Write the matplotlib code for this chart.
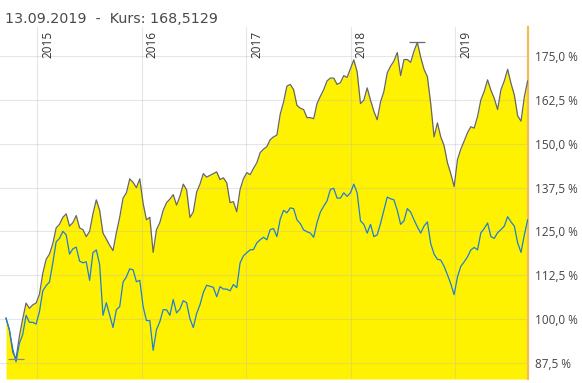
import matplotlib
matplotlib.use("Agg")
import matplotlib.pyplot as plt
import matplotlib.dates as mdates
import matplotlib.transforms as mtransforms
import numpy as np
import pandas as pd

plt.rcParams['font.family'] = ['Open Sans', 'DejaVu Sans']

# Daten (Wertentwicklung in %, Start = 100 %)
start_date = '2014-09-13'
end_date = '2019-09-13'
title_text = '13.09.2019  -  Kurs: 168,5129'
year_labels = ['2015', '2016', '2017', '2018', '2019']
y_ticks = [87.5, 100.0, 112.5, 125.0, 137.5, 150.0, 162.5, 175.0]
y_ticklabels = ['87,5 %', '100,0 %', '112,5 %', '125,0 %', '137,5 %',
                '150,0 %', '162,5 %', '175,0 %']

fonds = [
    100.0, 96.9, 90.5, 88.6, 95.0, 100.0, 104.5, 103.0, 104.0, 104.5,
    107.0, 113.0, 117.0, 118.5, 121.5, 126.0, 127.0, 129.0, 130.0, 126.5,
    127.5, 129.5, 126.0, 125.5, 123.5, 125.0, 130.0, 134.0, 131.0, 124.5,
    122.8, 121.0, 119.5, 124.6, 129.0, 134.5, 136.0, 140.0, 139.0, 137.5,
    140.0, 133.0, 128.3, 129.0, 119.0, 125.5, 127.5, 131.0, 133.2, 134.2,
    135.5, 132.5, 135.0, 138.5, 136.9, 129.0, 130.5, 136.2, 138.5, 141.5,
    140.5, 141.0, 141.5, 142.0, 139.8, 140.3, 138.9, 133.2, 133.5, 130.6,
    137.0, 140.0, 141.8, 141.2, 143.0, 144.6, 147.5, 148.5, 149.2, 151.2,
    152.0, 152.5, 158.5, 162.0, 166.5, 167.0, 165.5, 161.0, 160.2, 159.8,
    157.5, 157.5, 157.2, 161.5, 163.6, 165.5, 168.0, 168.8, 168.8, 167.0,
    167.5, 169.5, 169.0, 171.5, 174.0, 170.6, 161.5, 162.5, 166.0, 162.5,
    159.3, 156.9, 162.0, 165.0, 170.3, 172.2, 173.7, 176.1, 169.5, 174.1,
    174.1, 173.3, 176.5, 179.0, 174.8, 171.3, 169.2, 161.5, 152.0, 156.0,
    152.0, 149.5, 144.6, 141.5, 137.8, 145.5, 148.5, 150.8, 153.2, 154.9,
    154.5, 157.8, 162.6, 165.0, 168.3, 165.3, 163.0, 159.8, 165.5, 168.0,
    171.3, 167.3, 164.0, 158.0, 156.5, 163.5, 168.0,
]

benchmark = [
    100.3, 96.9, 91.5, 87.7, 93.0, 95.5, 101.0, 99.0, 99.0, 98.5,
    102.0, 108.0, 109.5, 110.5, 116.0, 122.0, 123.0, 125.0, 124.0, 118.5,
    120.0, 120.5, 116.5, 116.0, 116.3, 111.0, 118.9, 119.7, 115.5, 101.0,
    104.6, 101.0, 97.5, 102.6, 103.5, 110.5, 112.0, 114.3, 114.0, 110.6,
    111.0, 103.5, 99.5, 99.5, 91.0, 96.9, 99.2, 102.6, 102.6, 101.0,
    105.5, 101.7, 102.8, 105.2, 104.6, 100.0, 97.5, 101.5, 104.0, 107.5,
    109.6, 109.3, 109.0, 106.3, 109.2, 108.5, 108.5, 108.0, 109.8, 108.9,
    116.0, 118.0, 118.9, 119.7, 119.8, 121.7, 122.6, 123.3, 122.6, 125.5,
    125.8, 123.5, 128.5, 131.0, 130.3, 131.7, 131.5, 128.3, 127.2, 125.4,
    124.9, 124.5, 123.3, 127.5, 130.5, 132.2, 133.7, 137.0, 137.3, 134.5,
    134.5, 136.0, 135.0, 136.0, 138.5, 136.0, 128.0, 127.0, 124.5, 127.0,
    123.5, 124.0, 127.3, 131.0, 134.8, 134.3, 134.0, 131.0, 127.0, 128.0,
    131.5, 130.5, 128.3, 126.3, 124.5, 126.5, 127.7, 121.5, 118.5, 117.0,
    116.8, 115.0, 112.6, 110.0, 106.9, 112.0, 115.0, 116.3, 117.7, 119.7,
    120.4, 119.7, 124.6, 125.8, 127.4, 123.5, 123.0, 124.6, 125.5, 126.5,
    129.2, 127.7, 126.5, 121.7, 119.0, 124.0, 128.3,
]

dates = pd.date_range(start_date, end_date, periods=len(fonds))
fonds = np.array(fonds)
benchmark = np.array(benchmark)

y_min, y_max = 82.8, 183.4

fig = plt.figure(figsize=(5.82, 3.83), dpi=100)
ax = fig.add_axes([0.0, 0.0104, 0.9072, 0.9191])

# Flaeche + Linien
ax.fill_between(dates, fonds, y_min, color='#fff200', lw=0, zorder=1)
ax.plot(dates, fonds, color='#666666', lw=0.9, zorder=3)
ax.plot(dates, benchmark, color='#1e7fd6', lw=0.9, zorder=4)

# Max / Min Markierung
i_max = int(np.argmax(fonds))
i_min = int(np.argmin(fonds))
ax.plot(dates[i_max], fonds[i_max], marker='_', ms=11, mew=0.9, color='#6b6b6b', zorder=5)
ax.plot(dates[i_min], fonds[i_min], marker='_', ms=11, mew=0.9, color='#888888', zorder=5)

# Gitter
for v in y_ticks:
    ax.axhline(v, color='#b8b8b8', lw=0.8, alpha=0.35, zorder=2)
trans = mtransforms.blended_transform_factory(ax.transData, ax.transAxes)
for yl in year_labels:
    d = pd.Timestamp(yl + '-01-01')
    ax.axvline(d, color='#b8b8b8', lw=0.8, alpha=0.35, zorder=2)
    ax.annotate(yl, xy=(mdates.date2num(d), 0.912), xycoords=trans, xytext=(3, 0),
                textcoords='offset points', rotation=90, ha='left', va='bottom',
                fontsize=8.5, color='#333333')

ax.set_xlim(pd.Timestamp('2014-08-23'), pd.Timestamp(end_date) + pd.Timedelta(days=1))
ax.set_ylim(y_min, y_max)

ax.yaxis.tick_right()
ax.set_yticks(y_ticks)
ax.set_yticklabels(y_ticklabels)
ax.tick_params(axis='y', length=0, pad=5, labelsize=8.5, labelcolor='#444444')
ax.set_xticks([])

for s in ['top', 'left', 'bottom']:
    ax.spines[s].set_visible(False)
ax.spines['right'].set_color('#f3bb5a')
ax.spines['right'].set_linewidth(1.6)

fig.text(5 / 582, 1 - 22.7 / 383, title_text, fontsize=10.3, color='#4a4a4a',
         family='DejaVu Sans', ha='left', va='baseline')

fig.savefig('out.png', dpi=100)
